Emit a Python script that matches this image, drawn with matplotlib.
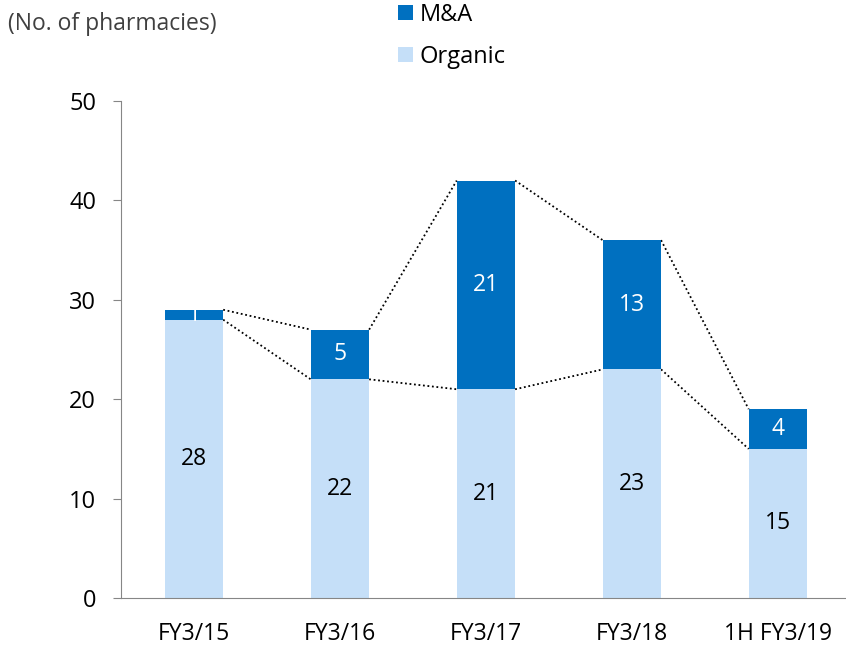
import matplotlib.pyplot as plt
import numpy as np

categories = ['FY3/15', 'FY3/16', 'FY3/17', 'FY3/18', '1H FY3/19']
organic = [28, 22, 21, 23, 15]
mna = [1, 5, 21, 13, 4]

plt.rcParams['font.family'] = ['Open Sans', 'DejaVu Sans']

fig = plt.figure(figsize=(8.46, 6.45), dpi=100)
ax = fig.add_axes([121 / 846, 1 - 598 / 645, (845 - 121) / 846, (598 - 101) / 645])

x = np.arange(len(categories))
w = 0.4
c_org = '#c5dff8'
c_mna = '#0070c0'
ax.bar(x, organic, w, color=c_org, label='Organic', zorder=2)
ax.bar(x, mna, w, bottom=organic, color=c_mna, label='M&A', zorder=2)

tot = np.array(organic) + np.array(mna)
for i in range(len(x) - 1):
    ax.plot([x[i] + w / 2, x[i + 1] - w / 2], [tot[i], tot[i + 1]], ls=(0, (1, 1.5)), color='black', lw=1.3, zorder=1)
    ax.plot([x[i] + w / 2, x[i + 1] - w / 2], [organic[i], organic[i + 1]], ls=(0, (1, 1.5)), color='black', lw=1.3, zorder=1)

for i in range(len(x)):
    ax.text(x[i], organic[i] / 2, str(organic[i]), ha='center', va='center', fontsize=16.5, color='black', zorder=3)
    ax.text(x[i], organic[i] + mna[i] / 2, str(mna[i]), ha='center', va='center', fontsize=16.5, color='white', zorder=3)

ax.set_ylim(0, 50)
ax.set_xlim(-0.5, 4.46)
ax.set_yticks([0, 10, 20, 30, 40, 50])
ax.set_xticks(x)
ax.set_xticklabels(categories)
ax.tick_params(axis='y', labelsize=17, length=6, color='#868686', pad=12)
ax.tick_params(axis='x', labelsize=16.5, length=0, pad=17)
for s in ['top', 'right']:
    ax.spines[s].set_visible(False)
ax.spines['left'].set_color('#868686')
ax.spines['bottom'].set_color('#868686')

fig.text(8 / 846, 1 - 24 / 645, '(No. of pharmacies)', fontsize=16.5, color='#404040', va='center')

h, l = ax.get_legend_handles_labels()
fig.legend(h[::-1], l[::-1], loc='center', bbox_to_anchor=(452 / 846, 1 - 36 / 645), frameon=False,
           fontsize=17, handlelength=0.6, handleheight=0.6, labelspacing=0.75, handletextpad=0.3,
           borderpad=0)

fig.savefig('out.png', dpi=100)
